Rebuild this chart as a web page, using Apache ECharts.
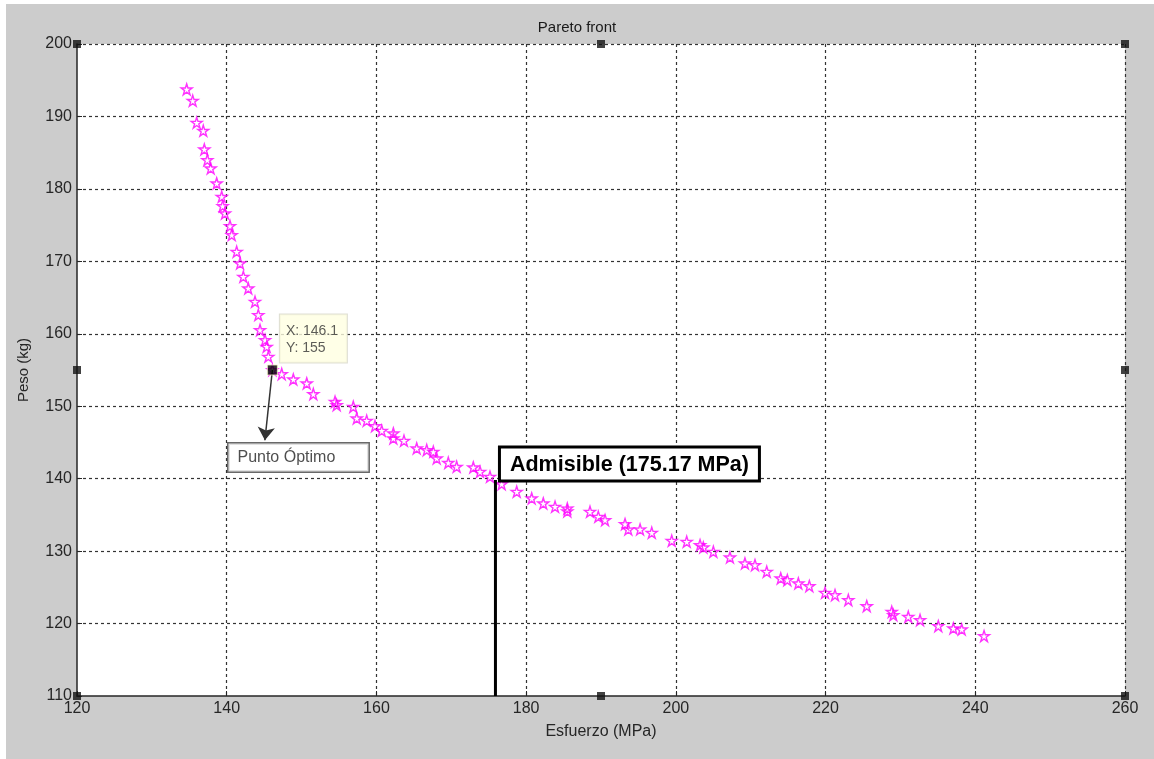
<!DOCTYPE html>
<html>
<head>
<meta charset="utf-8">
<script src="https://cdn.jsdelivr.net/npm/echarts@6/dist/echarts.min.js"></script>
<style>
html,body{margin:0;padding:0;background:#fff;}
#c{width:1154px;height:759px;}
</style>
</head>
<body>
<div id="c"></div>
<script>
// ---- data ----
const stressX = [134.65,135.46,135.99,136.87,137.01,137.41,137.86,138.66,139.33,139.46,139.77,140.44,140.67,141.33,141.78,142.22,142.88,143.78,144.22,144.45,145.12,145.34,145.56,146.1,147.35,148.90,150.69,151.57,154.47,154.69,156.91,157.37,158.70,159.81,160.71,162.26,162.26,163.68,165.38,166.72,167.60,168.05,169.60,170.72,172.94,173.84,175.17,176.73,178.74,180.74,182.29,183.86,185.5,185.5,188.53,189.64,190.54,193.21,193.65,195.22,196.78,199.45,201.45,203.23,203.67,205.01,207.23,209.23,210.57,212.14,214.01,214.89,216.36,217.83,219.93,221.26,223.04,225.50,228.84,229.05,231.05,232.62,235.06,237.07,238.19,241.17];
const weightY = [193.75,192.17,189.14,188.03,185.46,183.99,182.84,180.77,178.92,177.64,176.63,174.88,173.64,171.33,169.73,167.88,166.28,164.43,162.60,160.52,159.14,158.22,156.84,155,154.45,153.71,153.16,151.69,150.62,150.17,149.93,148.33,148.0,147.27,146.62,146.26,145.57,145.24,144.19,143.96,143.72,142.81,142.20,141.65,141.57,140.96,140.27,139.26,138.20,137.29,136.60,136.13,135.9,135.5,135.44,134.75,134.29,133.74,133.0,133.0,132.54,131.44,131.30,130.84,130.52,129.92,129.14,128.31,128.08,127.16,126.25,126.01,125.56,125.18,124.26,123.94,123.25,122.42,121.63,121.18,120.94,120.49,119.66,119.34,119.20,118.28];
const optimum = [146.1, 155];
const arrowEnd = [145.1, 145.3];
const optLabelAnchor = [140.3, 144.8];
const optLabelText = 'Punto Óptimo';
const admissibleText = 'Admisible (175.17 MPa)';
const admissibleLine = [[175.9, 139.8], [175.9, 110]];
const handles = [[120,200],[190,200],[260,200],[120,155],[260,155],[120,110],[190,110],[260,110]];
const xRange = [120, 260, 20];
const yRange = [110, 200, 10];

const starPath = 'path://M50 0 L61.17 34.63 L97.55 34.55 L68.07 55.87 L79.39 90.45 L50 69 L20.61 90.45 L31.93 55.87 L2.45 34.55 L38.83 34.63 Z';
const FONT = '"Liberation Sans", Arial, sans-serif';
const pareto = stressX.map((x, i) => [x, weightY[i]]);

const chart = echarts.init(document.getElementById('c'));
chart.setOption({
  animation: false,
  backgroundColor: '#ffffff',
  graphic: { elements: [{ type: 'rect', z: -100, shape: { x: 6, y: 4, width: 1148, height: 755 }, style: { fill: '#cccccc' } }] },
  title: { text: 'Pareto front', left: 'center', top: 15, textStyle: { fontSize: 15, fontWeight: 'normal', color: '#1a1a1a', fontFamily: FONT } },
  grid: { left: 77, right: 29, top: 44, bottom: 63, show: true, backgroundColor: '#ffffff', borderWidth: 0 },
  xAxis: {
    type: 'value', min: xRange[0], max: xRange[1], interval: xRange[2],
    name: 'Esfuerzo (MPa)', nameLocation: 'middle', nameGap: 28,
    nameTextStyle: { fontSize: 16, color: '#262626', fontFamily: FONT },
    axisLine: { show: true, onZero: false, lineStyle: { color: '#262626', width: 1.5 } },
    axisTick: { show: true, inside: true, length: 5, lineStyle: { color: '#262626' } },
    axisLabel: { fontSize: 16, color: '#262626', margin: 5, fontFamily: FONT },
    splitLine: { show: true, showMinLine: false, lineStyle: { color: '#333333', type: [3, 3], width: 1.2 } }
  },
  yAxis: {
    type: 'value', min: yRange[0], max: yRange[1], interval: yRange[2],
    name: 'Peso (kg)', nameLocation: 'middle', nameGap: 46,
    nameTextStyle: { fontSize: 15, color: '#262626', fontFamily: FONT },
    axisLine: { show: true, onZero: false, lineStyle: { color: '#262626', width: 1.5 } },
    axisTick: { show: true, inside: true, length: 5, lineStyle: { color: '#262626' } },
    axisLabel: { fontSize: 16, color: '#262626', margin: 5, fontFamily: FONT },
    splitLine: { show: true, showMinLine: false, lineStyle: { color: '#333333', type: [3, 3], width: 1.2 } }
  },
  series: [
    {
      type: 'scatter', data: pareto, symbol: starPath, symbolSize: 11, z: 3,
      itemStyle: { color: 'rgba(255,0,255,0)', borderColor: '#ff00ff', borderWidth: 1.4 }
    },
    {
      type: 'line', data: admissibleLine, showSymbol: false, symbol: 'none', z: 4,
      lineStyle: { color: '#000', width: 3 },
      markPoint: {
        symbol: 'rect', symbolSize: 1, itemStyle: { color: 'rgba(0,0,0,0)' },
        data: [{ coord: admissibleLine[0] }],
        label: {
          show: true, formatter: admissibleText, position: [6, 0], align: 'left', verticalAlign: 'bottom',
          fontSize: 21.5, fontWeight: 'bold', color: '#000', fontFamily: FONT,
          backgroundColor: '#fff', borderColor: '#000', borderWidth: 3, padding: [5, 9, 4, 9]
        }
      }
    },
    {
      type: 'lines', coordinateSystem: 'cartesian2d', z: 5, silent: true,
      data: [{ coords: [optimum, arrowEnd] }],
      symbol: ['none', 'arrow'], symbolSize: 13,
      lineStyle: { color: '#333', width: 1.5, opacity: 1 }
    },
    {
      type: 'scatter', data: [optimum], symbol: 'rect', symbolSize: 10, z: 6, clip: false,
      itemStyle: { color: '#000', borderColor: '#f3f0c8', borderWidth: 1 },
      label: {
        show: true, formatter: p => 'X: ' + p.value[0] + '\nY: ' + p.value[1],
        position: [13, -2], align: 'left', verticalAlign: 'bottom',
        fontSize: 14, lineHeight: 17, color: '#333', fontFamily: FONT,
        backgroundColor: '#ffffe1', borderColor: '#d6d6c8', borderWidth: 1, padding: [8, 6, 6, 6], width: 55
      }
    },
    {
      type: 'scatter', data: [optLabelAnchor], symbol: 'rect', symbolSize: 1, z: 4, clip: false,
      itemStyle: { color: 'rgba(0,0,0,0)' },
      label: {
        show: true, formatter: optLabelText, position: [0, 0], align: 'left', verticalAlign: 'top',
        fontSize: 16, color: '#222', fontFamily: FONT,
        backgroundColor: '#fff', borderColor: '#444', borderWidth: 1.5, padding: [6, 9, 6, 9], width: 122
      }
    },
    {
      type: 'scatter', data: handles, symbol: 'rect', symbolSize: 8, z: 7, clip: false,
      itemStyle: { color: '#111' }
    }
  ]
});
</script>
</body>
</html>
